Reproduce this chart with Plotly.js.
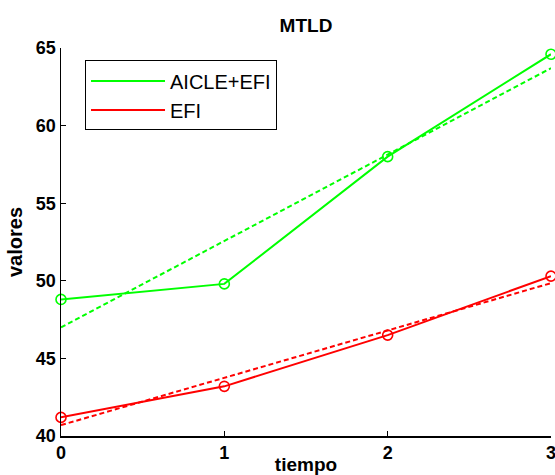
<!DOCTYPE html>
<html>
<head>
<meta charset="utf-8">
<script src="https://cdn.plot.ly/plotly-3.0.1.min.js"></script>
<style>html,body{margin:0;padding:0;background:#fff;}#chart{width:555px;height:475px;}</style>
</head>
<body>
<div id="chart"></div>
<script>
var tiempo = [0, 1, 2, 3];
var aicleEfi = [48.8, 49.8, 58.0, 64.6];
var efi = [41.2, 43.2, 46.5, 50.3];
var fitX = [0, 3];
var aicleEfiFit = [47.0, 63.7];
var efiFit = [40.7, 49.85];
var xTicks = [0, 1, 2, 3];
var yTicks = [40, 45, 50, 55, 60, 65];
var seriesNames = ['AICLE+EFI', 'EFI'];

var GREEN = '#00ff00', RED = '#ff0000';
var FONT = 'Arial, "Liberation Sans", Helvetica, sans-serif';

var traces = [
  {x: tiempo, y: aicleEfi, name: seriesNames[0], mode: 'lines', line: {color: GREEN, width: 2}, cliponaxis: false},
  {x: tiempo, y: efi, name: seriesNames[1], mode: 'lines', line: {color: RED, width: 2}, cliponaxis: false},
  {x: tiempo, y: aicleEfi, mode: 'markers', showlegend: false, cliponaxis: false,
   marker: {symbol: 'circle-open', size: 10, color: GREEN, line: {color: GREEN, width: 1.6}}},
  {x: tiempo, y: efi, mode: 'markers', showlegend: false, cliponaxis: false,
   marker: {symbol: 'circle-open', size: 10, color: RED, line: {color: RED, width: 1.6}}},
  {x: fitX, y: aicleEfiFit, mode: 'lines', showlegend: false, cliponaxis: false,
   line: {color: GREEN, width: 2, dash: '5px,3px'}},
  {x: fitX, y: efiFit, mode: 'lines', showlegend: false, cliponaxis: false,
   line: {color: RED, width: 2, dash: '5px,3px'}}
];

var layout = {
  width: 555, height: 475,
  margin: {l: 61, r: 4, t: 48, b: 39, pad: 0},
  paper_bgcolor: '#fff', plot_bgcolor: '#fff',
  font: {family: FONT, color: '#000'},
  title: {text: '<b>MTLD</b>', font: {family: FONT, size: 19, color: '#000'},
          xref: 'paper', x: 0.5, xanchor: 'center', yref: 'container', y: 0.947, yanchor: 'middle'},
  xaxis: {
    range: [0, 3], tickvals: xTicks, ticktext: xTicks.map(function(v){return '<b>' + v + '</b>';}),
    ticklabeloverflow: 'allow',
    showgrid: false, zeroline: false, showline: true, linecolor: '#000', linewidth: 1.5, mirror: false,
    ticks: 'inside', ticklen: 5, tickwidth: 1, tickcolor: '#000',
    tickfont: {family: FONT, size: 18, color: '#000'},
    title: {text: '<b>tiempo</b>', font: {family: FONT, size: 19, color: '#000'}, standoff: 6}
  },
  yaxis: {
    range: [40, 65], tickvals: yTicks, ticktext: yTicks.map(function(v){return '<b>' + v + '</b>';}),
    ticklabeloverflow: 'allow',
    showgrid: false, zeroline: false, showline: true, linecolor: '#000', linewidth: 1.5, mirror: false,
    ticks: 'inside', ticklen: 5, tickwidth: 1, tickcolor: '#000',
    tickfont: {family: FONT, size: 18, color: '#000'},
    title: {text: '<b>valores</b>', font: {family: FONT, size: 20, color: '#000'}, standoff: 8}
  },
  showlegend: true,
  legend: {
    x: 0.049, y: 0.968, xanchor: 'left', yanchor: 'top',
    bgcolor: '#fff', bordercolor: '#000', borderwidth: 1,
    font: {family: FONT, size: 20, color: '#000'},
    itemwidth: 74, tracegroupgap: 0
  }
};

Plotly.newPlot('chart', traces, layout, {displayModeBar: false, staticPlot: true});
</script>
</body>
</html>
